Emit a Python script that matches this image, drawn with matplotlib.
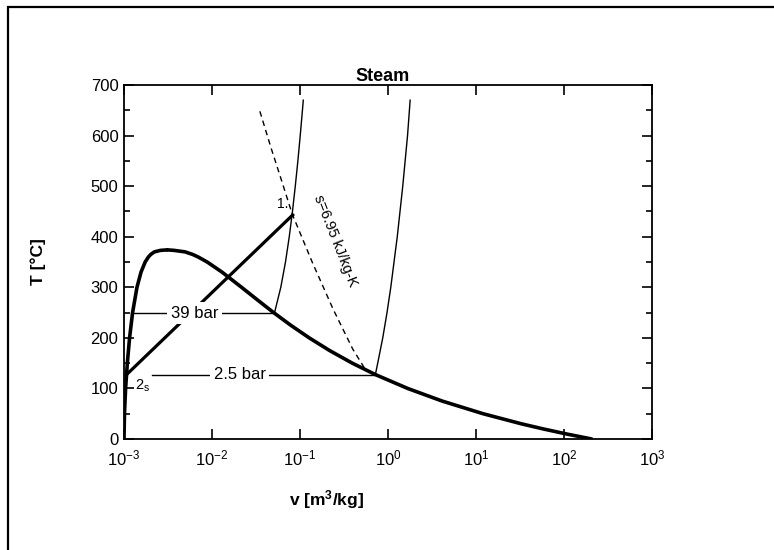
import matplotlib
matplotlib.use("Agg")
import matplotlib.pyplot as plt
import numpy as np
from matplotlib.ticker import MultipleLocator, LogLocator, NullLocator
from matplotlib.patches import Rectangle

plt.rcParams['font.family'] = ['Liberation Sans', 'DejaVu Sans']
plt.rcParams['mathtext.fontset'] = 'custom'
plt.rcParams['mathtext.rm'] = 'Liberation Sans'
plt.rcParams['mathtext.it'] = 'Liberation Sans:italic'
plt.rcParams['mathtext.bf'] = 'Liberation Sans:bold'
plt.rcParams['mathtext.default'] = 'regular'
plt.rcParams['axes.unicode_minus'] = False

# Saturation dome (liquid side, then vapour side), v [m3/kg], T [C]
liq_T = [0.01, 50, 100, 150, 200, 250, 300, 330, 350, 360, 365, 370, 373, 373.95]
liq_v = [0.0010002, 0.001012, 0.001043, 0.001091, 0.001157, 0.001252, 0.001404,
         0.001561, 0.001740, 0.001895, 0.002016, 0.002213, 0.00260, 0.003106]
vap_T = [373.95, 373, 370, 365, 360, 350, 330, 300, 275, 250, 225, 200, 175, 150,
         127.4, 100, 75, 50, 30, 20, 10, 0.01]
vap_v = [0.003106, 0.0037, 0.004953, 0.006013, 0.00695, 0.008813, 0.012996, 0.021659,
         0.03286, 0.050085, 0.07845, 0.12721, 0.21659, 0.39248, 0.7187, 1.6718,
         4.1291, 12.026, 32.879, 57.757, 106.31, 205.99]

# Superheated isobars
p39_v = [0.0512, 0.0605, 0.0684, 0.0755, 0.0821, 0.0884, 0.0946, 0.1006, 0.1066, 0.1090]
p39_T = [248.8, 300, 350, 400, 450, 500, 550, 600, 650, 670]
p25_v = [0.7187, 0.7641, 0.8718, 0.9744, 1.0756, 1.2743, 1.4713, 1.6674, 1.785]
p25_T = [127.4, 150, 200, 250, 300, 400, 500, 600, 670]

# Isobar horizontal lines in the two-phase region
h39_v = [0.00125, 0.0512]
h39_T = [248.8, 248.8]
h25_v = [0.0021, 0.7187]
h25_T = [127.4, 127.4]

# Isentrope s = 6.95 kJ/kg-K
s_v = [0.035, 0.047, 0.0587, 0.0815, 0.139, 0.239, 0.397, 0.55, 0.70]
s_T = [648, 575, 523, 445, 348, 256, 178, 138, 127.4]

# Process line 2s -> 1
proc_v = [0.00107, 0.0826]
proc_T = [127.4, 443]

fig = plt.figure(figsize=(7.74, 5.5), dpi=100)
ax = fig.add_axes([124/774, 1-439/550, 528/774, 354/550])

ax.plot(liq_v, liq_T, color='black', lw=2.6, solid_capstyle='round')
ax.plot(vap_v, vap_T, color='black', lw=2.6, solid_capstyle='round')
ax.plot(proc_v, proc_T, color='black', lw=2.3)
ax.plot(p39_v, p39_T, color='black', lw=1.0)
ax.plot(p25_v, p25_T, color='black', lw=1.0)
ax.plot(h39_v, h39_T, color='black', lw=1.0)
ax.plot(h25_v, h25_T, color='black', lw=1.0)
ax.plot(s_v, s_T, color='black', lw=1.0, ls=(0, (4, 3)))

bbox = dict(facecolor='white', edgecolor='none', pad=2.5)
ax.text(0.0063, 248.8, '39 bar', fontsize=12, ha='center', va='center', bbox=bbox, zorder=5)
ax.text(0.0208, 127.4, '2.5 bar', fontsize=12, ha='center', va='center', bbox=bbox, zorder=5)
ax.text(0.25, 392, 's=6.95 kJ/kg-K', fontsize=10.5, ha='center', va='center', rotation=-68.5)
ax.text(0.0745, 450, '1.', fontsize=10, ha='right', va='bottom')
ax.text(0.00133, 105, r'2$_s$', fontsize=10.5, ha='left', va='center')

ax.set_xscale('log')
ax.set_xlim(1e-3, 1e3)
ax.set_ylim(0, 700)
ax.xaxis.set_major_locator(LogLocator(base=10, numticks=10))
ax.xaxis.set_minor_locator(NullLocator())
ax.yaxis.set_major_locator(MultipleLocator(100))
ax.yaxis.set_minor_locator(MultipleLocator(50))
ax.tick_params(which='both', direction='in', top=True, right=True, width=1.2, labelsize=12)
ax.tick_params(which='major', length=7)
ax.tick_params(axis='y', which='major', pad=4)
ax.tick_params(axis='x', which='major', pad=7)
ax.tick_params(which='minor', length=4)
for sp in ax.spines.values():
    sp.set_linewidth(1.3)

ax.set_title('Steam', fontsize=13, fontweight='bold', x=0.49, pad=1)
ax.set_xlabel(r'v [m$^{\mathbf{3}}$/kg]', fontsize=12.5, fontweight='bold')
ax.xaxis.set_label_coords(0.383, -0.14)
ax.set_ylabel('T [°C]', fontsize=12.5, fontweight='bold')
ax.yaxis.set_label_coords(-0.148, 0.5)

fig.patches.append(Rectangle((8/774, -0.1), 1.2, 1 - 7/550 + 0.1, transform=fig.transFigure,
                             fill=False, edgecolor='black', lw=1.6))

fig.savefig('out.png', dpi=100)
